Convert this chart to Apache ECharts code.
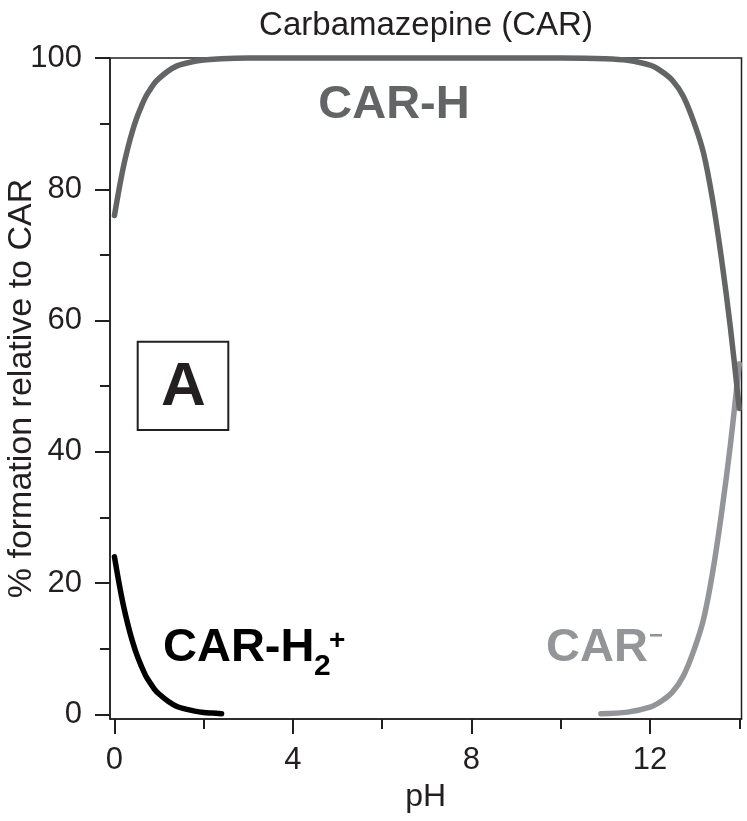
<!DOCTYPE html>
<html>
<head>
<meta charset="utf-8">
<script src="https://cdn.jsdelivr.net/npm/echarts@6/dist/echarts.min.js"></script>
<style>
  html, body { margin: 0; padding: 0; background: #ffffff; }
  #chart { width: 747px; height: 821px; }
</style>
</head>
<body>
<div id="chart"></div>
<script>
// Speciation of carbamazepine versus pH (% of total CAR)
const phCation = [0, 0.1, 0.2, 0.3, 0.4, 0.5, 0.6, 0.7, 0.8, 0.9, 1.0, 1.2, 1.4, 1.6, 1.8, 2.0, 2.2, 2.4];
const carH2Plus = [24.0, 20.1, 16.6, 13.7, 11.2, 9.1, 7.4, 5.9, 4.8, 3.8, 3.1, 2.0, 1.2, 0.8, 0.5, 0.3, 0.2, 0.1];

const phNeutral = [0, 0.1, 0.2, 0.3, 0.4, 0.5, 0.6, 0.7, 0.8, 0.9, 1.0, 1.2, 1.4, 1.6, 1.8, 2.0, 2.4, 3, 4, 5, 6, 7, 8, 9, 10, 11, 11.5, 12, 12.25, 12.5, 12.75, 13, 13.2, 13.4, 13.6, 13.8, 14];
const carH = [76.0, 79.9, 83.4, 86.3, 88.8, 90.9, 92.6, 94.1, 95.2, 96.2, 96.9, 98.0, 98.8, 99.2, 99.5, 99.7, 99.9, 100, 100, 100, 100, 100, 100, 100, 100, 99.9, 99.65, 98.9, 98.0, 96.6, 94.1, 89.9, 85.5, 78.5, 69.5, 59.0, 46.6];

const phAnion = [10.9, 11.5, 12, 12.25, 12.5, 12.75, 13, 13.2, 13.4, 13.6, 13.8, 14];
const carMinus = [0.1, 0.35, 1.1, 2.0, 3.4, 5.9, 10.1, 14.5, 21.5, 30.5, 41.0, 53.4];

const xMajorTicks = [0, 4, 8, 12];
const xMinorTicks = [2, 6, 10, 14];
const yMajorTicks = [0, 20, 40, 60, 80, 100];
const yMinorTicks = [10, 30, 50, 70, 90];

const FONT = '"Liberation Sans", Arial, Helvetica, sans-serif';
const INK = '#231f20';
const COLOR_H2 = '#000000';
const COLOR_H = '#636466';
const COLOR_M = '#939598';

const X_MIN = -0.1, X_MAX = 14.05;
const Y_MIN = -0.7, Y_MAX = 100;

function pairs(xs, ys) { return xs.map((x, i) => [x, ys[i]]); }

const chart = echarts.init(document.getElementById('chart'), null, { renderer: 'canvas' });

const tickStyle = { color: INK, width: 2 };
const labelStyle = { fontFamily: FONT, fontSize: 31, color: INK };

function curve(name, xs, ys, color) {
  return {
    name: name,
    type: 'line',
    data: pairs(xs, ys),
    showSymbol: false,
    smooth: 0.35,
    clip: false,
    lineStyle: { color: color, width: 5.5, cap: 'round', join: 'round' },
    emphasis: { disabled: true },
    animation: false
  };
}

chart.setOption({
  animation: false,
  backgroundColor: '#ffffff',
  grid: {
    left: 110, right: 5.5, top: 58, bottom: 102,
    show: true, borderColor: INK, borderWidth: 1.5, backgroundColor: 'transparent',
    containLabel: false, outerBoundsMode: 'none'
  },
  xAxis: [
    {
      type: 'value', position: 'bottom', min: X_MIN, max: X_MAX,
      axisLine: { show: true, onZero: false, lineStyle: { color: INK, width: 1.5 } },
      axisTick: { show: true, inside: false, length: 15, lineStyle: tickStyle, customValues: xMajorTicks },
      axisLabel: Object.assign({ customValues: xMajorTicks, margin: 26 }, labelStyle),
      splitLine: { show: false },
      name: 'pH', nameLocation: 'middle', nameGap: 57,
      nameTextStyle: { fontFamily: FONT, fontSize: 32, color: INK }
    },
    {
      type: 'value', position: 'bottom', min: X_MIN, max: X_MAX,
      axisLine: { show: false, onZero: false },
      axisTick: { show: true, inside: false, length: 10, lineStyle: tickStyle, customValues: xMinorTicks },
      axisLabel: { show: false },
      splitLine: { show: false }
    }
  ],
  yAxis: [
    {
      type: 'value', position: 'left', min: Y_MIN, max: Y_MAX,
      axisLine: { show: true, onZero: false, lineStyle: { color: INK, width: 1.5 } },
      axisTick: { show: true, inside: false, length: 15, lineStyle: tickStyle, customValues: yMajorTicks },
      axisLabel: Object.assign({ customValues: yMajorTicks, margin: 28 }, labelStyle),
      splitLine: { show: false },
      name: '% formation relative to CAR', nameLocation: 'middle', nameGap: 71,
      nameMoveOverlap: false,
      nameTextStyle: { fontFamily: FONT, fontSize: 34, color: INK }
    },
    {
      type: 'value', position: 'left', min: Y_MIN, max: Y_MAX,
      axisLine: { show: false, onZero: false },
      axisTick: { show: true, inside: false, length: 10, lineStyle: tickStyle, customValues: yMinorTicks },
      axisLabel: { show: false },
      splitLine: { show: false }
    }
  ],
  series: [
    curve('CAR-H2+', phCation, carH2Plus, COLOR_H2),
    curve('CAR-', phAnion, carMinus, COLOR_M),
    curve('CAR-H', phNeutral, carH, COLOR_H)
  ],
  graphic: [
    { type: 'text', x: 426, y: 26,
      style: { text: 'Carbamazepine (CAR)', font: '33px ' + FONT, fill: INK, align: 'center', verticalAlign: 'middle' } },
    // species labels
    { type: 'text', x: 394, y: 105,
      style: { text: 'CAR-H', font: 'bold 47px ' + FONT, fill: COLOR_H, align: 'center', verticalAlign: 'middle' } },
    { type: 'text', x: 163, y: 648,
      style: { text: 'CAR-H', font: 'bold 47px ' + FONT, fill: COLOR_H2, align: 'left', verticalAlign: 'middle' } },
    { type: 'text', x: 314, y: 667,
      style: { text: '2', font: 'bold 30px ' + FONT, fill: COLOR_H2, align: 'left', verticalAlign: 'middle' } },
    { type: 'text', x: 329, y: 641,
      style: { text: '+', font: 'bold 28px ' + FONT, fill: COLOR_H2, align: 'left', verticalAlign: 'middle' } },
    { type: 'text', x: 546, y: 648,
      style: { text: 'CAR', font: 'bold 47px ' + FONT, fill: COLOR_M, align: 'left', verticalAlign: 'middle' } },
    { type: 'text', x: 649, y: 636,
      style: { text: '\u2212', font: 'bold 24px ' + FONT, fill: COLOR_M, align: 'left', verticalAlign: 'middle' } },
    // panel tag
    { type: 'rect', shape: { x: 137.7, y: 341.7, width: 90.6, height: 88.3 },
      style: { fill: 'transparent', stroke: INK, lineWidth: 2 } },
    { type: 'text', x: 183.4, y: 388,
      style: { text: 'A', font: 'bold 62px ' + FONT, fill: INK, align: 'center', verticalAlign: 'middle' } }
  ]
});
</script>
</body>
</html>
